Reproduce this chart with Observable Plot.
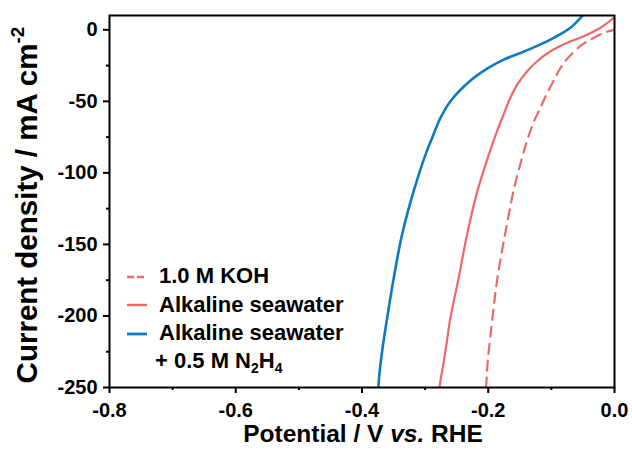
<!DOCTYPE html>
<html><head><meta charset="utf-8">
<script src="https://cdn.jsdelivr.net/npm/d3@7"></script>
<script src="https://cdn.jsdelivr.net/npm/@observablehq/plot@0.6"></script>
<style>body{margin:0;background:#fff} #chart{width:632px;height:454px}</style>
</head><body><div id="chart"></div>
<script>
// ---- data ----
const seriesNames = ["1.0 M KOH", "Alkaline seawater", "Alkaline seawater + 0.5 M N2H4"];

const kohV = [-0.2036, -0.2028, -0.2008, -0.1968, -0.1915, -0.1861, -0.1782, -0.1703, -0.1599, -0.1459, -0.1379, -0.1284, -0.1173, -0.1078, -0.0967, -0.0856, -0.0745, -0.0539, -0.0349, -0.0174, 0.000];
const kohJ = [-250, -245.3, -231.4, -215.1, -194.1, -175.4, -154.4, -135.8, -112.4, -88.6, -76.7, -64.9, -54.4, -45.2, -35.8, -26.7, -20.1, -11.3, -6.1, -2.2, 0.0];

const seaV = [-0.2772, -0.2757, -0.2677, -0.2598, -0.2467, -0.2334, -0.2170, -0.1980, -0.1869, -0.1758, -0.1663, -0.1542, -0.1383, -0.1225, -0.1014, -0.0749, -0.0487, -0.0222, -0.0011];
const seaJ = [-250, -245.3, -224.3, -201.0, -173.1, -142.7, -112.4, -85.8, -71.8, -59.3, -48.8, -38.3, -28.9, -22.0, -15.0, -9.1, -4.5, 1.4, 8.4];

const hydV = [-0.3739, -0.3734, -0.3680, -0.3600, -0.3496, -0.3363, -0.3179, -0.2994, -0.2888, -0.2757, -0.2598, -0.2281, -0.2017, -0.1754, -0.1489, -0.1225, -0.0962, -0.0697, -0.0491];
const hydJ = [-250, -245.3, -224.3, -201.0, -173.1, -142.7, -112.4, -87.2, -75.5, -61.6, -49.9, -35.5, -27.1, -20.8, -16.2, -11.2, -5.6, 1.4, 10.7];

const xTicks = [-0.8, -0.6, -0.4, -0.2, 0.0];
const xMinorTicks = [-0.7, -0.5, -0.3, -0.1];
const yTicks = [0, -50, -100, -150, -200, -250];
const yMinorTicks = [-25, -75, -125, -175, -225];

const red = "#ec6a66";
const blue = "#0e7bc0";
const font = "'Liberation Sans', Arial, sans-serif";

const rows = (vs, js) => vs.map((v, i) => ({v, j: js[i]}));
const koh = rows(kohV, kohJ), sea = rows(seaV, seaJ), hyd = rows(hydV, hydJ);

const chart = Plot.plot({
  width: 632, height: 454,
  marginLeft: 109, marginRight: 18, marginTop: 15, marginBottom: 67,
  style: {fontFamily: font, background: "#fff", color: "#000"},
  x: {domain: [-0.8, 0]},
  y: {domain: [-250, 10]},
  marks: [
    Plot.line(koh, {x: "v", y: "j", stroke: red, strokeWidth: 2.2, strokeDasharray: "10,7", curve: "catmull-rom", clip: true}),
    Plot.line(sea, {x: "v", y: "j", stroke: red, strokeWidth: 2.2, curve: "catmull-rom", clip: true}),
    Plot.line(hyd, {x: "v", y: "j", stroke: blue, strokeWidth: 2.6, curve: "catmull-rom", clip: true}),
    Plot.axisX({ticks: xTicks, tickSize: 6, tickPadding: 9, tickFormat: d => d.toFixed(1), fontSize: 20, fontWeight: "bold", label: null, strokeWidth: 2}),
    Plot.axisX({ticks: xMinorTicks, tickSize: 3, tickFormat: () => "", label: null, strokeWidth: 2}),
    Plot.axisY({ticks: yTicks, tickSize: 6, tickPadding: 6, tickFormat: d => String(d), fontSize: 20, fontWeight: "bold", label: null, strokeWidth: 2}),
    Plot.axisY({ticks: yMinorTicks, tickSize: 3, tickFormat: () => "", label: null, strokeWidth: 2}),
    Plot.frame({stroke: "#000", strokeWidth: 2})
  ]
});
document.getElementById("chart").appendChild(chart);

const svg = d3.select(chart);

// x axis title
const xt = svg.append("text").attr("x", 363).attr("y", 442).attr("text-anchor", "middle")
  .attr("font-size", 24.5).attr("font-weight", "bold").attr("fill", "#000");
xt.append("tspan").text("Potential / V ");
xt.append("tspan").attr("font-style", "italic").text("vs.");
xt.append("tspan").text(" RHE");

// y axis title
const yt = svg.append("text").attr("transform", "translate(37,205) rotate(-90)").attr("text-anchor", "middle")
  .attr("font-size", 29.5).attr("font-weight", "bold").attr("fill", "#000");
yt.append("tspan").text("Current density / mA cm");
yt.append("tspan").attr("font-size", 19).attr("dy", -13).text("-2");

// legend
const legend = [
  {name: seriesNames[0], color: red, dash: "7,3", w: 2.4, y: 277, base: 283},
  {name: seriesNames[1], color: red, dash: null, w: 2.4, y: 305, base: 312},
  {name: "Alkaline seawater", color: blue, dash: null, w: 2.8, y: 334, base: 340}
];
legend.forEach(d => {
  svg.append("line").attr("x1", 127).attr("x2", 147).attr("y1", d.y).attr("y2", d.y)
    .attr("stroke", d.color).attr("stroke-width", d.w).attr("stroke-dasharray", d.dash);
  svg.append("text").attr("x", 159).attr("y", d.base).attr("text-anchor", "start")
    .attr("font-size", 22).attr("font-weight", "bold").attr("fill", "#000").text(d.name);
});
const l4 = svg.append("text").attr("x", 155).attr("y", 368).attr("text-anchor", "start")
  .attr("font-size", 22).attr("font-weight", "bold").attr("fill", "#000");
l4.append("tspan").text("+ 0.5 M N");
l4.append("tspan").attr("font-size", 14).attr("dy", 5).text("2");
l4.append("tspan").attr("dy", -5).text("H");
l4.append("tspan").attr("font-size", 14).attr("dy", 5).text("4");
</script>
</body></html>
